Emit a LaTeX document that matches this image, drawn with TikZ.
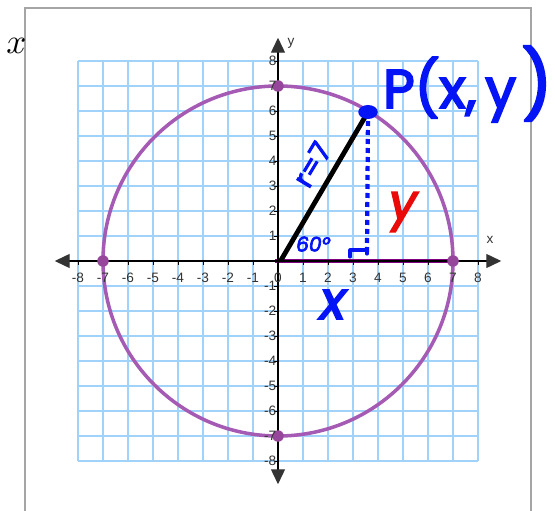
\documentclass[tikz,border=0pt]{standalone}
\usepackage{fontspec}
\setmainfont{Liberation Sans}
\newfontfamily\hand{Poppins}[FakeBold=3.5]
\usetikzlibrary{arrows.meta,shapes.geometric}
\definecolor{gridblue}{RGB}{160,210,250}
\definecolor{circpurple}{RGB}{165,90,180}
\definecolor{segpurple}{RGB}{128,0,128}
\definecolor{dotpurple}{RGB}{150,70,155}
\definecolor{inkblue}{RGB}{5,20,245}
\definecolor{inkred}{RGB}{235,10,10}
\definecolor{axisgray}{RGB}{51,51,51}
\definecolor{framegray}{RGB}{165,165,165}
\begin{document}
\begin{tikzpicture}[x=1cm,y=1cm,
  gridline/.style={gridblue, line width=1.2pt},
  axisline/.style={black, line width=1.6pt, arrows={Triangle[length=0.6cm,width=0.56cm,color=axisgray]-Triangle[length=0.6cm,width=0.56cm,color=axisgray]}},
  tickline/.style={black, line width=1pt},
  ticklbl/.style={text=axisgray, font=\fontsize{15.5}{15.5}\selectfont, inner sep=0pt},
  axdot/.style={circle, fill=dotpurple, inner sep=0pt, minimum size=0.46cm},
  ink/.style={text=inkblue, inner sep=0pt},
]
\useasboundingbox (-11.12,-10.0) rectangle (11.08,10.44);
\fill[white] (-11.12,-10.0) rectangle (11.08,10.44);
% frame
\draw[framegray, line width=2pt] (-10.12,-10.3) -- (-10.12,10.12) -- (10.12,10.12) -- (10.12,-10.3);
% grid
\foreach \i in {-8,...,8} {
  \draw[gridline] (\i,-8) -- (\i,8);
  \draw[gridline] (-8,\i) -- (8,\i);
}
% circle
\coordinate (O) at (0,0);
\draw[circpurple, line width=4pt] (O) circle (7);
% axes
\coordinate (xL) at (-8.93,0);
\coordinate (xR) at (8.93,0);
\coordinate (yB) at (0,-8.93);
\coordinate (yT) at (0,8.93);
\draw[segpurple, line width=4.5pt] (-0.1,0) -- (7,0);
\draw[axisline] (xL) -- (xR);
\draw[axisline] (yB) -- (yT);
\foreach \i in {-8,...,8} {
  \draw[tickline] (\i,0) -- (\i,-0.18);
  \draw[tickline] (0,\i) -- (-0.18,\i);
}
% dots on axes
\node[axdot] (dR) at (7,0) {};
\node[axdot] (dL) at (-7,0) {};
\node[axdot] (dT) at (0,7) {};
\node[axdot] (dB) at (0,-7) {};
% tick labels
\foreach \i in {-8,...,8} {
  \node[ticklbl] (tx\i) at (\i,-0.68) {\i};
}
\foreach \i in {1,...,8} {
  \node[ticklbl, anchor=east] (typ\i) at (-0.06,\i) {\i};
  \node[ticklbl, anchor=east] (tyn\i) at (-0.06,-\i) {-\i};
}
\node[ticklbl] (axx) at (8.48,0.84) {x};
\node[ticklbl] (axy) at (0.52,8.72) {y};
% radius, point P
\coordinate (P) at (3.6,5.96);
\coordinate (foot) at (3.56,0.32);
\draw[black, line width=5.5pt] (0.1,0) -- (P);
\draw[inkblue, line width=4.8pt, dash pattern=on 0.2cm off 0.16cm] (P) -- (foot);
\node[ellipse, fill=inkblue, inner sep=0pt, minimum width=0.78cm, minimum height=0.56cm] (Pdot) at (P) {};
% right angle mark
\draw[inkblue, line width=3.5pt, line cap=round, line join=round] (2.88,0.16) -- (2.88,0.44) -- (3.56,0.44) -- (3.56,0.28);
% handwritten labels
\node[ink, font=\hand\fontsize{62}{62}\selectfont, anchor=base west] (Plabel) at (4.2,6.12) {P(x,\,y};
\node[ink, font=\hand\fontsize{76}{76}\selectfont] (Pclose) at (10.36,7.1) {)};
\node[ink, rotate=59, font=\hand\fontsize{32}{32}\selectfont] (rlabel) at (1.36,3.86) {r=7};
\node[text=inkred, inner sep=0pt, font=\hand\itshape\fontsize{56}{56}\selectfont] (ylabel) at (5.0,1.96) {y};
\node[ink, font=\hand\itshape\fontsize{60}{60}\selectfont] (xlabel) at (2.2,-1.74) {x};
\node[ink, font=\hand\itshape\fontsize{23}{23}\selectfont] (angle) at (1.4,0.68) {60°};
% corner x
\node[inner sep=0pt] (cornerx) at (-10.46,8.6) {\scalebox{4}{$x$}};
\end{tikzpicture}
\end{document}
